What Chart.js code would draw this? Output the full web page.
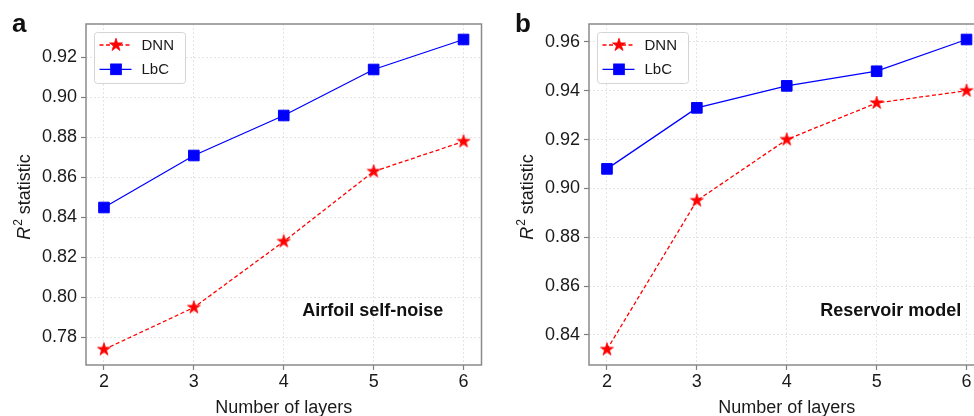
<!DOCTYPE html>
<html>
<head>
<meta charset="utf-8">
<script src="https://cdn.jsdelivr.net/npm/chart.js@4.4.1/dist/chart.umd.min.js"></script>
<style>
    html, body { margin: 0; padding: 0; width: 974px; height: 416px; overflow: hidden; background: #fff; }
    canvas { position: absolute; top: 0; }
    #chartA { left: -13px; }
    #chartB { left: 490px; }
    .panel-letter { position: absolute; top: 10px; font: bold 26px "Liberation Sans", Arial, sans-serif; color: #111; line-height: 26px; }
</style>
</head>
<body>
<canvas id="chartA" width="503" height="416"></canvas>
<canvas id="chartB" width="503" height="416"></canvas>
<div class="panel-letter" style="left:12px">a</div>
<div class="panel-letter" style="left:515px">b</div>
<script>
// data
const layers = [2, 3, 4, 5, 6];
const seriesNames = ['DNN', 'LbC'];
const airfoilDNN = [0.774, 0.795, 0.828, 0.863, 0.878];
const airfoilLbC = [0.845, 0.871, 0.891, 0.914, 0.929];
const reservoirDNN = [0.834, 0.895, 0.920, 0.935, 0.940];
const reservoirLbC = [0.908, 0.933, 0.942, 0.948, 0.961];

const FONT = '"Liberation Sans", Arial, Helvetica, sans-serif';
Chart.defaults.font.family = FONT;
Chart.defaults.color = '#1a1a1a';

// filled five-point star marker
function makeStar(R, color) {
    const c = document.createElement('canvas');
    const s = Math.ceil(R * 2 + 2);
    c.width = s; c.height = s;
    const g = c.getContext('2d');
    g.beginPath();
    for (let i = 0; i < 10; i++) {
        const r = i % 2 ? R * 0.382 : R;
        const ang = -Math.PI / 2 + i * Math.PI / 5;
        g.lineTo(s / 2 + r * Math.cos(ang), s / 2 + r * Math.sin(ang));
    }
    g.closePath();
    g.fillStyle = color;
    g.fill();
    g.strokeStyle = color;
    g.lineWidth = 0.8;
    g.stroke();
    return c;
}
const starImg = makeStar(6.8, '#ff0000');

function drawMarker(ctx, ds, x, y) {
    if (ds.pointStyle instanceof HTMLCanvasElement) {
        ctx.drawImage(ds.pointStyle, x - ds.pointStyle.width / 2, y - ds.pointStyle.height / 2);
    } else {
        const half = ds.pointRadius * Math.SQRT1_2;
        ctx.fillStyle = ds.pointBackgroundColor;
        ctx.fillRect(x - half, y - half, half * 2, half * 2);
        ctx.strokeStyle = ds.pointBorderColor;
        ctx.lineWidth = 1;
        ctx.strokeRect(x - half, y - half, half * 2, half * 2);
    }
}

// frame, y title with italic R and superscript, inner legend and panel note
const panelDecor = {
    id: 'panelDecor',
    afterDatasetsDraw(chart, args, opts) {
        const { ctx, chartArea: a } = chart;
        const w = a.right - a.left, h = a.bottom - a.top;

        ctx.save();
        ctx.strokeStyle = '#8a8a8a';
        ctx.lineWidth = 1.5;
        ctx.strokeRect(a.left, a.top, w, h);
        ctx.restore();

        // y axis title
        ctx.save();
        ctx.translate(a.left - 56, (a.top + a.bottom) / 2 + 2.5);
        ctx.rotate(-Math.PI / 2);
        ctx.fillStyle = '#1a1a1a';
        ctx.textBaseline = 'alphabetic';
        ctx.textAlign = 'left';
        const fMain = '18px ' + FONT, fItal = 'italic 18px ' + FONT, fSup = '12px ' + FONT;
        ctx.font = fItal; const wR = ctx.measureText('R').width;
        ctx.font = fSup; const w2 = ctx.measureText('2').width;
        ctx.font = fMain; const wRest = ctx.measureText(' statistic').width;
        let x = -(wR + 1 + w2 + wRest) / 2;
        ctx.font = fItal; ctx.fillText('R', x, 0); x += wR + 1;
        ctx.font = fSup; ctx.fillText('2', x, -8); x += w2;
        ctx.font = fMain; ctx.fillText(' statistic', x, 0);
        ctx.restore();

        // legend box
        ctx.save();
        const bx = a.left + 8.5, by = a.top + 8.5;
        ctx.beginPath();
        ctx.roundRect(bx, by, 91, 51, 3);
        ctx.fillStyle = 'rgba(255,255,255,0.85)';
        ctx.fill();
        ctx.strokeStyle = '#d4d4d4';
        ctx.lineWidth = 1;
        ctx.stroke();
        chart.data.datasets.forEach((ds, i) => {
            const ly = a.top + 21 + i * 24.3;
            ctx.strokeStyle = ds.borderColor;
            ctx.lineWidth = ds.borderWidth;
            ctx.setLineDash(ds.borderDash || []);
            ctx.beginPath();
            ctx.moveTo(bx + 5, ly);
            ctx.lineTo(bx + 37, ly);
            ctx.stroke();
            ctx.setLineDash([]);
            drawMarker(ctx, ds, bx + 21.5, ly);
            ctx.fillStyle = '#1a1a1a';
            ctx.font = '15px ' + FONT;
            ctx.textBaseline = 'middle';
            ctx.textAlign = 'left';
            ctx.fillText(ds.label, bx + 47, ly + 0.5);
        });
        ctx.restore();

        // panel note
        ctx.save();
        ctx.fillStyle = '#111';
        ctx.font = 'bold 18px ' + FONT;
        ctx.textAlign = 'center';
        ctx.textBaseline = 'middle';
        ctx.fillText(opts.note, a.left + opts.noteX * w, a.top + opts.noteY * h);
        ctx.restore();
    }
};

function axisRange(a, b) {
    const lo = Math.min(...a, ...b), hi = Math.max(...a, ...b);
    const pad = (hi - lo) * 0.05;
    return [lo - pad, hi + pad];
}

function makePanel(id, dnn, lbc, note, noteX) {
    const [ymin, ymax] = axisRange(dnn, lbc);
    const grid = { color: '#dddddd', lineWidth: 0.8, drawTicks: true, tickLength: 5, tickColor: '#7f7f7f', tickWidth: 1.2 };
    return new Chart(document.getElementById(id).getContext('2d'), {
        type: 'line',
        data: {
            datasets: [
                {
                    label: seriesNames[0],
                    data: layers.map((l, i) => ({ x: l, y: dnn[i] })),
                    borderColor: '#ff0000',
                    borderWidth: 1.3,
                    borderDash: [4, 2.5],
                    pointStyle: starImg,
                    pointRadius: 7,
                    pointBackgroundColor: '#ff0000',
                    pointBorderColor: '#ff0000',
                    tension: 0
                },
                {
                    label: seriesNames[1],
                    data: layers.map((l, i) => ({ x: l, y: lbc[i] })),
                    borderColor: '#0000ff',
                    borderWidth: 1.3,
                    pointStyle: 'rect',
                    pointRadius: 7.5,
                    pointBorderWidth: 1,
                    pointBackgroundColor: '#0000ff',
                    pointBorderColor: '#0000ff',
                    tension: 0
                }
            ]
        },
        options: {
            responsive: false,
            animation: false,
            layout: { padding: { left: 0, right: 6, top: 24, bottom: 0 } },
            scales: {
                x: {
                    type: 'linear',
                    min: 1.8,
                    max: 6.2,
                    ticks: { stepSize: 1, includeBounds: false, padding: 1, font: { size: 18 }, color: '#1a1a1a' },
                    grid: grid,
                    border: { display: false, dash: [2, 2] },
                    title: { display: true, text: 'Number of layers', font: { size: 18 }, color: '#1a1a1a', padding: { top: 0, bottom: -3 } },
                    afterFit: s => { s.height = 51; }
                },
                y: {
                    min: ymin,
                    max: ymax,
                    ticks: { stepSize: 0.02, includeBounds: false, padding: 4, font: { size: 18 }, color: '#1a1a1a',
                             callback: v => v.toFixed(2) },
                    grid: grid,
                    border: { display: false, dash: [2, 2] },
                    afterFit: s => { s.width = 99; }
                }
            },
            plugins: {
                legend: { display: false },
                tooltip: { enabled: false },
                panelDecor: { note: note, noteX: noteX, noteY: 0.842 }
            }
        },
        plugins: [panelDecor]
    });
}

makePanel('chartA', airfoilDNN, airfoilLbC, 'Airfoil self-noise', 0.725);
makePanel('chartB', reservoirDNN, reservoirLbC, 'Reservoir model', 0.763);
</script>
</body>
</html>
